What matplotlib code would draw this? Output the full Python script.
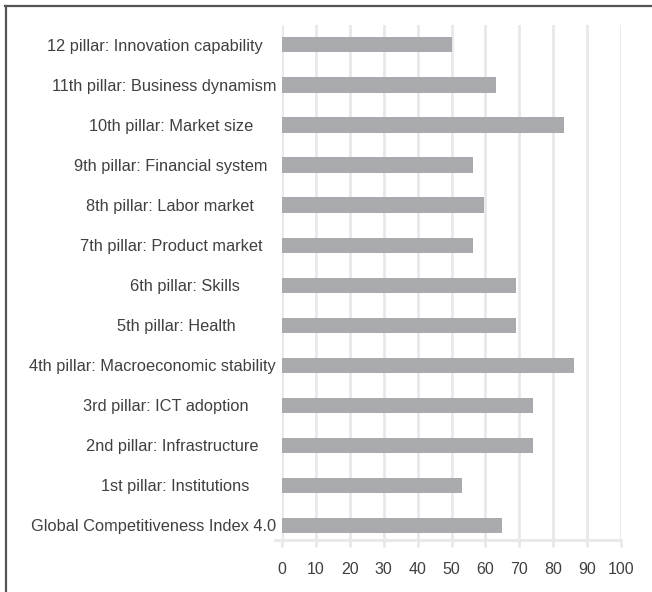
import matplotlib.pyplot as plt
from matplotlib.lines import Line2D

# categories listed bottom to top
labels = [
    "Global Competitiveness Index 4.0",
    "1st pillar: Institutions      ",
    "2nd pillar: Infrastructure    ",
    "3rd pillar: ICT adoption      ",
    "4th pillar: Macroeconomic stability",
    "5th pillar: Health         ",
    "6th pillar: Skills        ",
    "7th pillar: Product market   ",
    "8th pillar: Labor market     ",
    "9th pillar: Financial system  ",
    "10th pillar: Market size     ",
    "11th pillar: Business dynamism",
    "12 pillar: Innovation capability   ",
]
scores = [65, 53, 74, 74, 86, 69, 69, 56.4, 59.6, 56.4, 83.2, 63, 50]
xticks = [0, 10, 20, 30, 40, 50, 60, 70, 80, 90, 100]

plt.rcParams['font.family'] = ['Liberation Sans', 'DejaVu Sans']

fig = plt.figure(figsize=(6.52, 5.92), dpi=100)
ax = fig.add_axes([0.432, 0.088, 0.521, 0.870])

ax.barh(range(len(scores)), scores, height=0.38, color='#a9aaad', zorder=3)

ax.set_xlim(0, 100)
ax.set_ylim(-0.36, 12.5)
ax.set_xticks(xticks)
ax.set_yticks(range(len(labels)))
ax.set_yticklabels(labels, fontsize=11.8, color='#404040')
ax.tick_params(axis='y', length=0, pad=4)
ax.tick_params(axis='x', length=5, width=2, color='#e8e8ea', labelsize=11.5,
               labelcolor='#404040', pad=11)

ax.grid(axis='x', color='#e8e8ea', linewidth=2, zorder=0)
for s in ['top', 'right', 'left']:
    ax.spines[s].set_visible(False)
ax.spines['bottom'].set_color('#e8e8ea')
ax.spines['bottom'].set_linewidth(2)
ax.spines['bottom'].set_bounds(-2, 100)

# frame lines (top and left only visible)
fig.add_artist(Line2D([5 / 652, 1], [1 - 6 / 592, 1 - 6 / 592], color='#555555', linewidth=1.6))
fig.add_artist(Line2D([6 / 652, 6 / 652], [0, 1 - 6 / 592], color='#555555', linewidth=1.6))

fig.savefig('out.png', dpi=100)
